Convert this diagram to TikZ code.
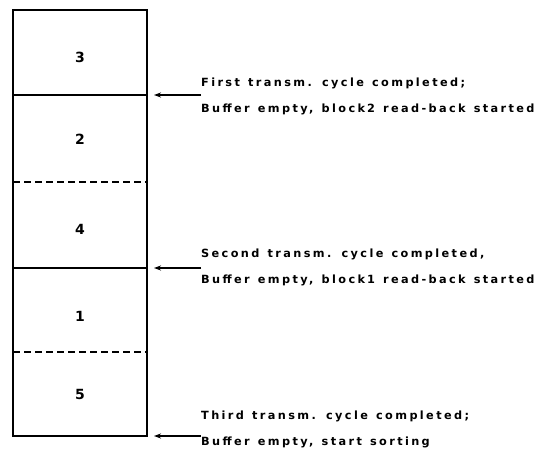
\documentclass[tikz,border=0pt]{standalone}
\usepackage{fontspec}
\setmainfont{DejaVu Sans}
\newfontfamily\labelfont[LetterSpace=21,WordSpace=1.3]{DejaVu Sans Bold}
\newfontfamily\numfont{DejaVu Sans Bold}
\usetikzlibrary{arrows.meta}
\begin{document}
\begin{tikzpicture}[x=1pt,y=-1pt,
  wall/.style={line width=2pt},
  divider/.style={line width=2pt},
  dashdivider/.style={line width=2pt,dash pattern=on 7pt off 4pt},
  blocknum/.style={font=\numfont\fontsize{14}{14}\selectfont},
  note/.style={font=\labelfont\fontsize{11.3}{26}\selectfont,align=left,inner sep=0pt,anchor=west},
  pointer/.style={line width=1.3pt,-{Stealth[length=7pt,width=5pt]}}]
\useasboundingbox (0,0) rectangle (547,459);
% buffer outline and block boundaries
\coordinate (tl) at (13,10);
\coordinate (br) at (147,436);
\draw[wall] (tl) rectangle (br);
\draw[divider] (13,95) -- (147,95);
\draw[dashdivider] (13,182) -- (147,182);
\draw[divider] (13,268) -- (147,268);
\draw[dashdivider] (13,352) -- (147,352);
% block numbers
\node[blocknum] (b3) at (80,57) {3};
\node[blocknum] (b2) at (80,139) {2};
\node[blocknum] (b4) at (80,229) {4};
\node[blocknum] (b1) at (80,316) {1};
\node[blocknum] (b5) at (80,394) {5};
% event notes
\node[note] (n1) at (201,96) {First transm. cycle completed;\\Buffer empty, block\,2 read-back started};
\node[note] (n2) at (201,267) {Second transm. cycle completed,\\Buffer empty, block\,1 read-back started};
\node[note] (n3) at (201,429) {Third transm. cycle completed;\\Buffer empty, start sorting};
\coordinate (p1) at (154,95);
\coordinate (p2) at (154,268);
\coordinate (p3) at (154,436);
\draw[pointer] (n1.west |- p1) -- (p1);
\draw[pointer] (n2.west |- p2) -- (p2);
\draw[pointer] (n3.west |- p3) -- (p3);
\end{tikzpicture}
\end{document}
